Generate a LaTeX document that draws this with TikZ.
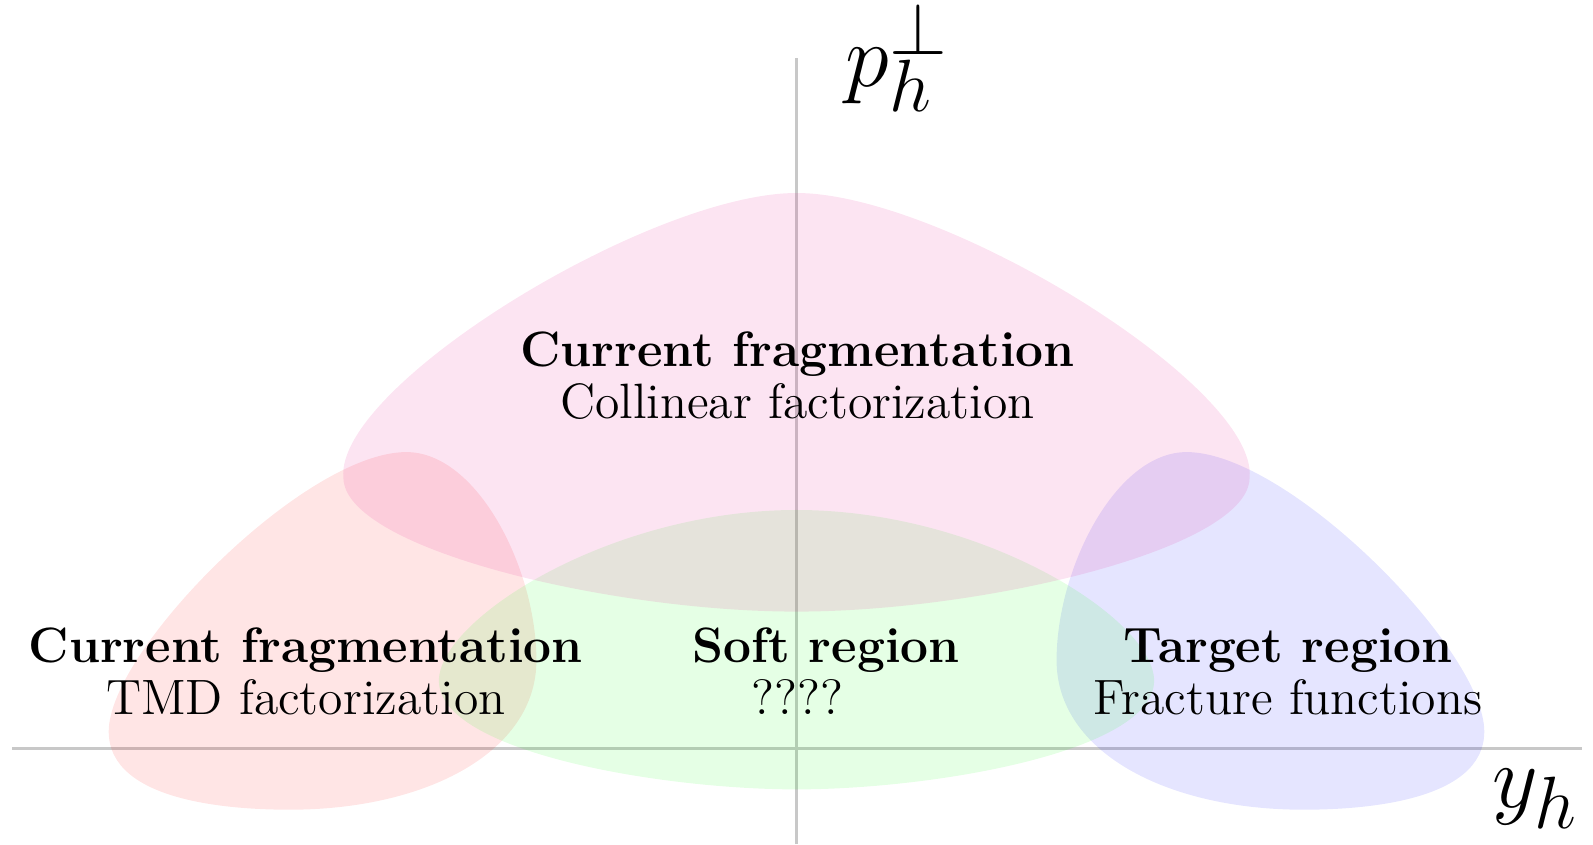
\documentclass[tikz,border=0pt]{standalone}
\usepackage{fontspec}
\definecolor{pinkregion}{RGB}{230,30,147}
\tikzset{
  axisline/.style={draw={rgb,255:red,200;green,200;blue,200}, line width=0.85pt},
  region/.style={fill=#1, fill opacity=0.1, draw=none},
  headtext/.style={anchor=base, font=\fontsize{13.9}{16}\selectfont\bfseries},
  subtext/.style={anchor=base, font=\fontsize{13.9}{16}\selectfont},
}
\begin{document}
\begin{tikzpicture}[x=0.01cm, y=-0.01cm]
\useasboundingbox (0,0) rectangle (1568,831);

% axes
\coordinate (xl) at (12,737);
\coordinate (xr) at (1557,737);
\coordinate (yb) at (784,831);
\coordinate (yt) at (784,57);
\draw[axisline] (xl) -- (xr);
\draw[axisline] (yb) -- (yt);

% current fragmentation, TMD (left)
\path[region=red] (400,445) .. controls (300,445) and (107,640) .. (107,720)
  .. controls (107,790) and (230,797) .. (285,797)
  .. controls (420,797) and (528,740) .. (528,650)
  .. controls (528,560) and (470,445) .. (400,445) -- cycle;

% target region (right)
\path[region=blue] (1168,445) .. controls (1268,445) and (1461,640) .. (1461,720)
  .. controls (1461,790) and (1338,797) .. (1283,797)
  .. controls (1148,797) and (1040,740) .. (1040,650)
  .. controls (1040,560) and (1098,445) .. (1168,445) -- cycle;

% soft region (middle)
\path[region=green] (784,502) .. controls (600,502) and (432,610) .. (432,670)
  .. controls (432,740) and (650,777) .. (784,777)
  .. controls (918,777) and (1136,740) .. (1136,670)
  .. controls (1136,610) and (968,502) .. (784,502) -- cycle;

% current fragmentation, collinear (top)
\path[region=pinkregion, fill opacity=0.12] (784,190) .. controls (640,190) and (330,380) .. (338,470)
  .. controls (338,540) and (600,602) .. (784,602)
  .. controls (968,602) and (1230,540) .. (1230,470)
  .. controls (1238,380) and (928,190) .. (784,190) -- cycle;

% labels
\node[headtext] (topa) at (785,361) {Current fragmentation};
\node[subtext]  (topb) at (785,412) {Collinear factorization};
\node[headtext] (lefta) at (301,652) {Current fragmentation};
\node[subtext]  (leftb) at (301,703) {TMD factorization};
\node[headtext] (softa) at (813,652) {Soft region};
\node[subtext]  (softb) at (785,703) {????};
\node[headtext] (righta) at (1268,652) {Target region};
\node[subtext]  (rightb) at (1268,703) {Fracture functions};

\node[anchor=base west, inner sep=0pt, font=\fontsize{27.5}{30}\selectfont] (plabel) at (832,85) {$p_h^\perp$};
\node[anchor=base west, inner sep=0pt, font=\fontsize{30}{34}\selectfont] (ylabel) at (1468,795) {$y_h$};
\end{tikzpicture}
\end{document}
